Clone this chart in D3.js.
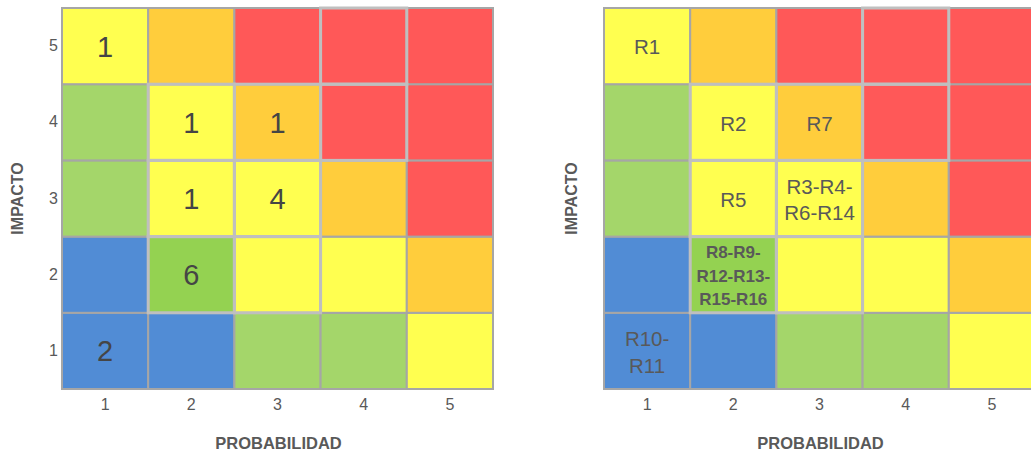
<!DOCTYPE html>
<html>
<head>
<meta charset="utf-8">
<script src="https://cdn.jsdelivr.net/npm/d3@7"></script>
<style>
  html, body { margin: 0; padding: 0; background: #ffffff; }
  svg { display: block; font-family: "Liberation Sans", Arial, sans-serif; }
</style>
</head>
<body>
<svg id="chart" width="1031" height="455"></svg>
<script>
// ---- Data ----
const probabilidad = [1, 2, 3, 4, 5];
const impacto = [1, 2, 3, 4, 5];
// zone per cell: rows = impacto 1..5, columns = probabilidad 1..5
const zonas = [
  ["muyBajo", "muyBajo", "bajo",  "bajo",  "medio"],   // impacto 1
  ["muyBajo", "bajoSel", "medio", "medio", "alto"],    // impacto 2
  ["bajo",    "medio",   "medio", "alto",  "muyAlto"], // impacto 3
  ["bajo",    "medio",   "alto",  "muyAlto","muyAlto"],// impacto 4
  ["medio",   "alto",    "muyAlto","muyAlto","muyAlto"]// impacto 5
];
const zonaColor = {
  muyBajo: "#518cd5",
  bajo: "#a4d66a",
  bajoSel: "#94d251",
  medio: "#ffff50",
  alto: "#ffcd3c",
  muyAlto: "#ff5858"
};
// counts of risks per cell [probabilidad, impacto, count]
const conteos = [
  [1, 5, 1], [2, 4, 1], [3, 4, 1], [2, 3, 1], [3, 3, 4], [2, 2, 6], [1, 1, 2]
];
// risk codes per cell [probabilidad, impacto, lines, bold]
const riesgos = [
  [1, 5, ["R1"], false],
  [2, 4, ["R2"], false],
  [3, 4, ["R7"], false],
  [2, 3, ["R5"], false],
  [3, 3, ["R3-R4-", "R6-R14"], false],
  [2, 2, ["R8-R9-", "R12-R13-", "R15-R16"], true],
  [1, 1, ["R10-", "R11"], false]
];
// cells drawn with the lighter outline
const celdasResaltadas = [[2,2],[3,2],[2,3],[3,3],[2,4],[3,4],[4,4],[4,5]];
const tituloX = "PROBABILIDAD";
const tituloY = "IMPACTO";

// ---- Drawing ----
const svg = d3.select("#chart");
const cellsData = [];
impacto.forEach((imp, r) => probabilidad.forEach((p, c) => cellsData.push({p, imp, zona: zonas[r][c]})));

function drawMatrix(g, left, opts) {
  const top = 8, w = 431, h = 381;
  const x = d3.scaleBand().domain(probabilidad).range([left, left + w]).padding(0);
  const y = d3.scaleBand().domain(impacto.slice().reverse()).range([top, top + h]).padding(0);

  g.append("g").selectAll("rect").data(cellsData).join("rect")
    .attr("x", d => x(d.p)).attr("y", d => y(d.imp))
    .attr("width", x.bandwidth()).attr("height", y.bandwidth())
    .attr("fill", d => zonaColor[d.zona])
    .attr("stroke", "#a6a6a6").attr("stroke-width", 2);

  g.append("g").selectAll("rect").data(celdasResaltadas).join("rect")
    .attr("x", d => x(d[0])).attr("y", d => y(d[1]))
    .attr("width", x.bandwidth()).attr("height", y.bandwidth())
    .attr("fill", "none")
    .attr("stroke", "#bfbfbf").attr("stroke-width", 3);

  // x axis
  const xAxis = d3.axisBottom(x).tickSize(0).tickPadding(10);
  const xg = g.append("g").attr("transform", `translate(0,${top + h})`).call(xAxis);
  xg.select(".domain").remove();
  xg.selectAll("text").attr("fill", "#595959").style("font-size", "16px")
    .style("font-family", "'Liberation Sans', Arial, sans-serif");

  if (opts.yTicks) {
    const yAxis = d3.axisLeft(y).tickSize(0).tickPadding(4);
    const yg = g.append("g").attr("transform", `translate(${left},0)`).call(yAxis);
    yg.select(".domain").remove();
    yg.selectAll("text").attr("fill", "#595959").style("font-size", "16px")
      .style("font-family", "'Liberation Sans', Arial, sans-serif");
  }

  g.append("text").attr("x", left + w / 2 + 1).attr("y", 449)
    .attr("text-anchor", "middle").attr("fill", "#595959")
    .attr("font-weight", "bold").attr("font-size", 16.5).text(tituloX);

  g.append("text").attr("transform", `translate(${opts.yTitleX},${top + h / 2}) rotate(-90)`)
    .attr("text-anchor", "middle").attr("fill", "#595959")
    .attr("font-weight", "bold").attr("font-size", 16).text(tituloY);

  return {x, y};
}

const gL = svg.append("g");
const L = drawMatrix(gL, 62, {yTicks: true, yTitleX: 23});
gL.append("g").selectAll("text").data(conteos).join("text")
  .attr("x", d => L.x(d[0]) + L.x.bandwidth() / 2)
  .attr("y", d => L.y(d[1]) + L.y.bandwidth() / 2)
  .attr("dy", "0.36em")
  .attr("text-anchor", "middle").attr("fill", "#454545")
  .attr("font-size", 29).text(d => d[2]);

const gR = svg.append("g");
const R = drawMatrix(gR, 604, {yTicks: false, yTitleX: 577});
riesgos.forEach(d => {
  const [p, imp, lines, bold] = d;
  const fs = bold ? 17 : 20.5;
  const lh = bold ? 23.5 : 26.5;
  const cx = R.x(p) + R.x.bandwidth() / 2;
  const cy = R.y(imp) + R.y.bandwidth() / 2 + 1;
  const t = gR.append("text").attr("text-anchor", "middle").attr("fill", "#595959")
    .attr("font-size", fs).attr("font-weight", bold ? "bold" : "normal");
  lines.forEach((ln, i) => {
    t.append("tspan").attr("x", cx)
      .attr("y", cy + (i - (lines.length - 1) / 2) * lh)
      .attr("dy", "0.36em").text(ln);
  });
});
</script>
</body>
</html>
